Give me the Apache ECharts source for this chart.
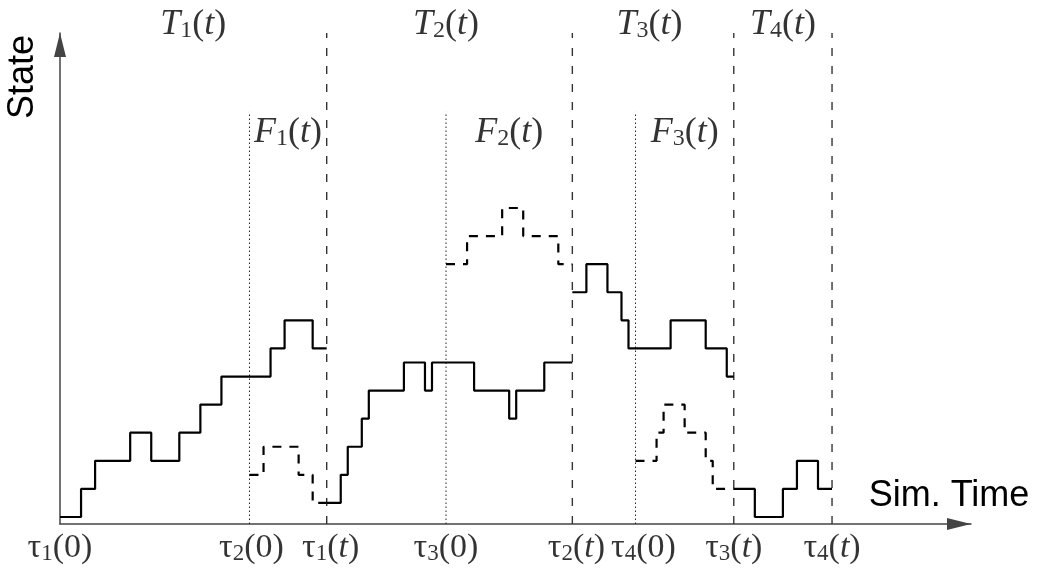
<!DOCTYPE html>
<html>
<head>
<meta charset="utf-8">
<script src="https://cdn.jsdelivr.net/npm/echarts@6/dist/echarts.min.js"></script>
<style>
html, body { margin: 0; padding: 0; background: #fff; }
#chart { width: 1045px; height: 574px; }
</style>
</head>
<body>
<div id="chart"></div>
<script>
// trajectories: times where the state changes, and the level held after each change
var t1Times = [0, 3, 5, 10, 13, 17, 20, 23, 30, 32, 36, 38];
var t1Levels = [0, 2, 4, 6, 4, 6, 8, 10, 12, 14, 12];
var f1Times = [27, 29, 34, 36, 38];
var f1Levels = [3, 5, 3, 1];
var t2Times = [38, 40, 41, 43, 44, 49, 52, 53, 59, 64, 65, 69, 73];
var t2Levels = [1, 3, 5, 7, 9, 11, 9, 11, 9, 7, 9, 11];
var f2Times = [55, 58, 63, 66, 71, 73];
var f2Levels = [18, 20, 22, 20, 18];
var t3Times = [73, 75, 78, 80, 81, 87, 92, 95, 96];
var t3Levels = [16, 18, 16, 14, 12, 14, 12, 10];
var f3Times = [82, 85, 86, 89, 92, 93, 96];
var f3Levels = [4, 6, 8, 6, 4, 2];
var t4Times = [96, 99, 103, 105, 108, 110];
var t4Levels = [2, 0, 2, 4, 2];

// marker times
var endTimes = [38, 73, 96, 110];     // tau_i(t), dashed
var forkTimes = [27, 55, 82];         // tau_i(0), dotted
var tickAt = [0, 27, 38, 55, 73, 82, 96, 110];
var tickNames = ['τ{s|1}(0)', 'τ{s|2}(0)', 'τ{s|1}({i|t})', 'τ{s|3}(0)',
                 'τ{s|2}({i|t})', 'τ{s|4}(0)', 'τ{s|3}({i|t})', 'τ{s|4}({i|t})'];
var tNameAt = [19, 55, 84, 103];
var tNames = ['{i|T}{s|1}({i|t})', '{i|T}{s|2}({i|t})', '{i|T}{s|3}({i|t})', '{i|T}{s|4}({i|t})'];
var fNameAt = [32.5, 64, 89];
var fNames = ['{i|F}{s|1}({i|t})', '{i|F}{s|2}({i|t})', '{i|F}{s|3}({i|t})'];

// label nudges (px) so neighbouring tick labels don't touch
var tickNudge = [0, 2, 4, 0, 4, 8, 0, 0];

var Y_MIN = -0.5, Y_MAX = 34.46, FORK_TOP = 28.84;
var serif = '"Liberation Serif", "Times New Roman", serif';
var sans = '"Liberation Sans", Arial, sans-serif';

function steps(times, levels) {
    return times.map(function (t, i) {
        return [t, levels[Math.min(i, levels.length - 1)]];
    });
}

function stepSeries(times, levels, dashed) {
    return {
        type: 'line',
        step: 'end',
        showSymbol: false,
        silent: true,
        data: steps(times, levels),
        lineStyle: { color: '#000', width: 2.2, type: dashed ? [9, 8] : 'solid' },
        z: 3
    };
}

function vline(x, top, style) {
    return {
        type: 'line',
        showSymbol: false,
        silent: true,
        data: [[x, Y_MIN], [x, top]],
        lineStyle: style,
        z: 2
    };
}

function labelSeries(xs, y, names, size, nudge) {
    var sub = Math.round(size * 0.67);
    return {
        type: 'scatter',
        symbolSize: 0,
        silent: true,
        clip: false,
        data: xs.map(function (x, i) {
            return {
                value: [x, y],
                name: names[i],
                label: { offset: [nudge ? nudge[i] : 0, 0] }
            };
        }),
        label: {
            show: true,
            position: 'inside',
            formatter: function (p) { return p.name; },
            fontFamily: serif,
            fontSize: size,
            lineHeight: size,
            color: '#000',
            rich: {
                s: { fontFamily: serif, fontSize: sub, verticalAlign: 'bottom', lineHeight: Math.round(size * 0.47), color: '#000' },
                i: { fontFamily: serif, fontSize: size, fontStyle: 'italic', lineHeight: size, color: '#000' }
            }
        }
    };
}

var series = [
    stepSeries(t1Times, t1Levels, false),
    stepSeries(f1Times, f1Levels, true),
    stepSeries(t2Times, t2Levels, false),
    stepSeries(f2Times, f2Levels, true),
    stepSeries(t3Times, t3Levels, false),
    stepSeries(f3Times, f3Levels, true),
    stepSeries(t4Times, t4Levels, false)
];
endTimes.forEach(function (x) {
    series.push(vline(x, Y_MAX, { color: '#333', width: 1.4, type: [8, 10] }));
});
forkTimes.forEach(function (x) {
    series.push(vline(x, FORK_TOP, { color: '#222', width: 1, type: [1.5, 2.5] }));
});
series.push(labelSeries(tickAt, -2.24, tickNames, 34, tickNudge));
series.push(labelSeries(tNameAt, 35.03, tNames, 36));
series.push(labelSeries(fNameAt, 27.34, fNames, 36));

var myChart = echarts.init(document.getElementById('chart'));

var option = {
    animation: false,
    backgroundColor: '#fff',
    grid: { left: 60, right: 74, top: 33, bottom: 50, containLabel: false },
    xAxis: {
        type: 'value',
        min: 0,
        max: 129.8,
        splitLine: { show: false },
        axisTick: { show: false },
        axisLabel: { show: false },
        axisLine: {
            onZero: false,
            symbol: ['none', 'triangle'],
            symbolSize: [12, 24],
            symbolOffset: [0, -12],
            lineStyle: { color: '#444', width: 1.5 }
        }
    },
    yAxis: {
        type: 'value',
        min: Y_MIN,
        max: Y_MAX,
        splitLine: { show: false },
        axisTick: { show: false },
        axisLabel: { show: false },
        axisLine: {
            show: true,
            onZero: false,
            symbol: ['none', 'triangle'],
            symbolSize: [12, 24],
            symbolOffset: [0, -12],
            lineStyle: { color: '#444', width: 1.5 }
        }
    },
    graphic: [
        {
            type: 'text',
            x: 23,
            y: 77,
            rotation: Math.PI / 2,
            style: { text: 'State', font: '36px ' + sans, fill: '#000', align: 'center', verticalAlign: 'middle' }
        },
        {
            type: 'text',
            x: 949,
            y: 496,
            style: { text: 'Sim. Time', font: '36px ' + sans, fill: '#000', align: 'center', verticalAlign: 'middle' }
        }
    ],
    series: series
};

myChart.setOption(option);
</script>
</body>
</html>
